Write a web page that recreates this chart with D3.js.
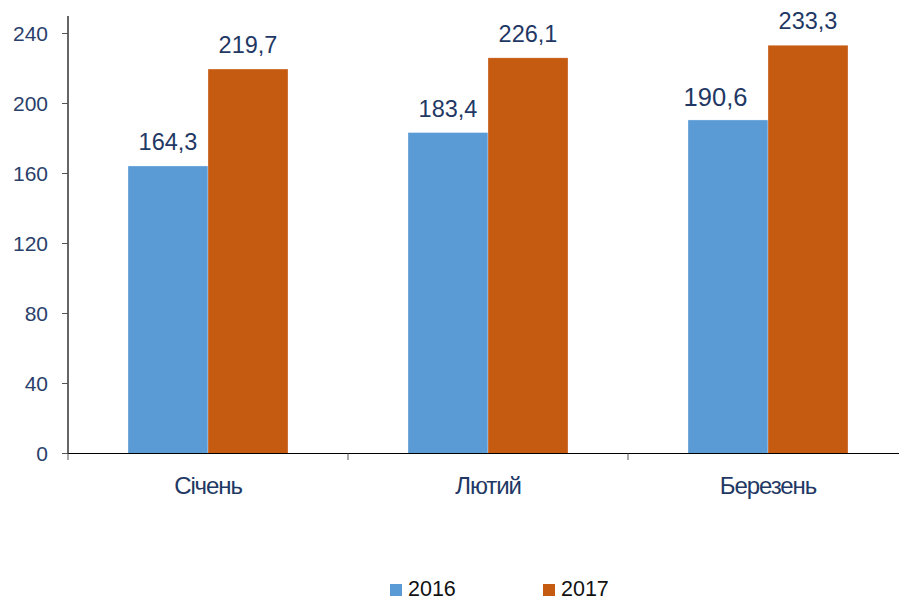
<!DOCTYPE html>
<html><head><meta charset="utf-8">
<script src="https://cdn.jsdelivr.net/npm/d3@7"></script>
<style>body{margin:0;background:#fff}svg{display:block}</style>
</head><body>
<script>
const categories = ["Січень", "Лютий", "Березень"];
const seriesNames = ["2016", "2017"];
const values2016 = [164.3, 183.4, 190.6];
const values2017 = [219.7, 226.1, 233.3];
const yTicks = [0, 40, 80, 120, 160, 200, 240];
const seriesColors = ["#5B9BD5", "#C55A11"];

const W = 899, H = 601;
const svg = d3.select("body").append("svg").attr("width", W).attr("height", H);

const x0 = d3.scaleBand().domain(categories).range([68, 908]).paddingInner(0).paddingOuter(0);
const x1 = d3.scaleBand().domain(seriesNames).range([60, 220]);
const y = d3.scaleLinear().domain([0, 240]).range([453.5, 33.5]);

const fmt = v => v.toFixed(1).replace(".", ",");
const FONT = "'Liberation Sans', Arial, sans-serif";

// y axis
const yAxis = svg.append("g").attr("transform", "translate(68,0)");
yAxis.append("line").attr("x1", 0).attr("x2", 0).attr("y1", 16).attr("y2", 453.5).attr("stroke", "#000").attr("stroke-width", 1.2);
yAxis.selectAll(".tk").data(yTicks).enter().append("line")
  .attr("x1", -6).attr("x2", 0).attr("y1", d => y(d)).attr("y2", d => y(d)).attr("stroke", "#555");
yAxis.selectAll(".tl").data(yTicks).enter().append("text")
  .attr("x", -20).attr("y", d => y(d)).attr("dy", "0.36em").attr("text-anchor", "end")
  .attr("font-family", FONT).attr("font-size", 21).attr("fill", "#2B3F6B")
  .text(d => d);

// bars
const data = categories.map((c, i) => ({ c, vals: [values2016[i], values2017[i]] }));
const g = svg.selectAll(".cat").data(data).enter().append("g")
  .attr("transform", d => `translate(${x0(d.c)},0)`);
g.selectAll("rect").data(d => d.vals.map((v, j) => ({ v, s: seriesNames[j], j }))).enter().append("rect")
  .attr("x", d => x1(d.s)).attr("width", x1.bandwidth())
  .attr("y", d => y(d.v)).attr("height", d => y(0) - y(d.v))
  .attr("fill", d => seriesColors[d.j]).attr("stroke", "#fff").attr("stroke-opacity", 0.5).attr("stroke-width", 0.6);

// value labels
data.forEach((d, i) => {
  d.vals.forEach((v, j) => {
    const big = (i === 2 && j === 0);
    svg.append("text")
      .attr("x", x0(d.c) + x1(seriesNames[j]) + x1.bandwidth() / 2 - (big ? 12.5 : 0))
      .attr("y", y(v) - (big ? 14 : 16))
      .attr("text-anchor", "middle")
      .attr("font-family", FONT)
      .attr("font-size", big ? 25.5 : 23.5).attr("fill", "#1F3864")
      .text(fmt(v));
  });
});

// x axis
svg.append("line").attr("x1", 68).attr("x2", W).attr("y1", 453.5).attr("y2", 453.5).attr("stroke", "#000").attr("stroke-width", 1.2);
svg.selectAll(".xtk").data(categories).enter().append("line")
  .attr("x1", d => x0(d)).attr("x2", d => x0(d)).attr("y1", 453.5).attr("y2", 460).attr("stroke", "#555");
svg.selectAll(".xl").data(categories).enter().append("text")
  .attr("x", d => x0(d) + x0.bandwidth() / 2).attr("y", 494)
  .attr("text-anchor", "middle")
  .attr("font-family", FONT)
  .attr("font-size", 24).attr("fill", "#1F3864").attr("letter-spacing", -1.1)
  .text(d => d);

// legend
const leg = [{ n: seriesNames[0], c: seriesColors[0], x: 390 }, { n: seriesNames[1], c: seriesColors[1], x: 543 }];
leg.forEach(l => {
  svg.append("rect").attr("x", l.x).attr("y", 584).attr("width", 12).attr("height", 12).attr("fill", l.c);
  svg.append("text").attr("x", l.x + 18).attr("y", 596)
    .attr("font-family", FONT).attr("font-size", 21.5).attr("fill", "#111")
    .text(l.n);
});
</script>
</body></html>
